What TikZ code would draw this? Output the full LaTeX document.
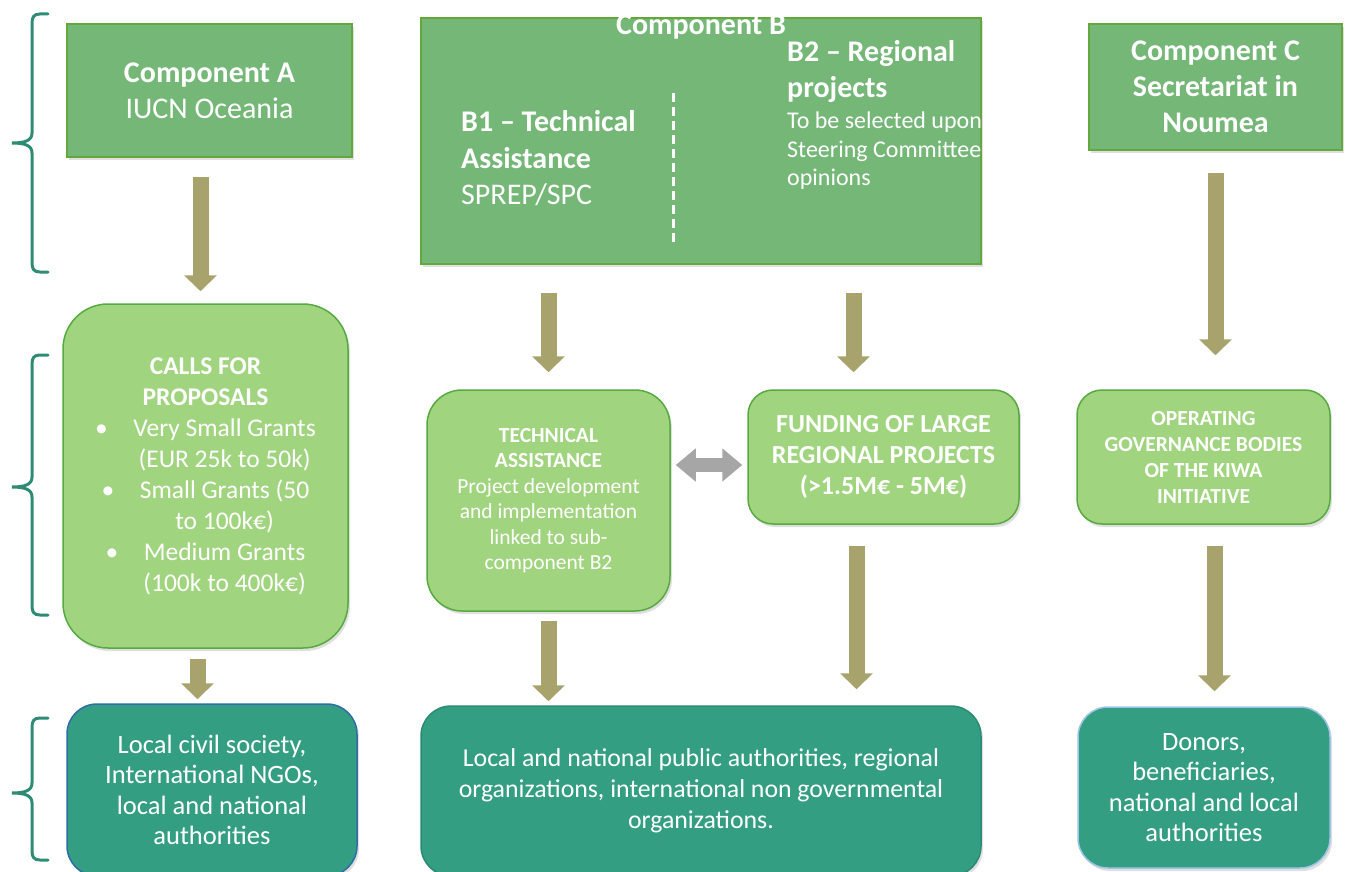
\documentclass[tikz,border=0pt]{standalone}
\usepackage{fontspec}
\setmainfont{Carlito}
\usetikzlibrary{arrows.meta,shadows}
\definecolor{hdrgreen}{RGB}{116,183,119}
\definecolor{hdrline}{RGB}{100,168,60}
\definecolor{litegreen}{RGB}{161,212,127}
\definecolor{liteline}{RGB}{86,170,64}
\definecolor{darkteal}{RGB}{52,158,131}
\definecolor{civilline}{RGB}{46,110,165}
\definecolor{publicline}{RGB}{44,140,115}
\definecolor{donorline}{RGB}{157,196,230}
\definecolor{bracecol}{RGB}{47,140,116}
\definecolor{olivearr}{RGB}{168,163,108}
\definecolor{greyarr}{RGB}{166,166,166}
\begin{document}
\begin{tikzpicture}[x=1pt,y=-1pt,
    hdr/.style={draw=hdrline,line width=1.5pt,fill=hdrgreen,text=white,align=center,
      drop shadow={shadow xshift=2pt,shadow yshift=-3pt,opacity=0.25}},
    lite/.style={draw=liteline,line width=1.5pt,fill=litegreen,text=white,align=center,
      rounded corners=30pt,drop shadow={shadow xshift=2pt,shadow yshift=-3pt,opacity=0.25}},
    target/.style={draw=#1,line width=1.5pt,fill=darkteal,text=white,align=center,
      rounded corners=30pt,font=\fontsize{26.5}{30.5}\selectfont,
      drop shadow={shadow xshift=2pt,shadow yshift=-3pt,opacity=0.25}},
    fat/.style={draw=olivearr,line width=16pt,-{Triangle[width=32pt,length=16pt]}},
    both/.style={draw=greyarr,line width=14pt,
      {Triangle[width=32pt,length=20pt]}-{Triangle[width=32pt,length=20pt]}}]
  \useasboundingbox[fill=white] (0,0) rectangle (1350,872);
  \foreach \t/\m/\b in {14/143/272,355/487/615,718/793/860} {
    \draw[bracecol,line width=3pt,line cap=round]
      (48,\t) -- (40,\t) .. controls (34,\t) and (32,\t+3) .. (32,\t+9)
      -- (32,\m-10) .. controls (32,\m-3) and (26,\m) .. (12,\m)
      .. controls (26,\m) and (32,\m+3) .. (32,\m+10)
      -- (32,\b-9) .. controls (32,\b-3) and (34,\b) .. (40,\b) -- (48,\b);
  }
  \node[hdr,minimum width=285pt,minimum height=133pt,font=\fontsize{30}{36}\selectfont]
    (compA) at (209.5,90.5) {\textbf{Component A}\\IUCN Oceania};
  \node[hdr,minimum width=560pt,minimum height=246pt] (compB) at (701,141) {};
  \node[text=white,font=\fontsize{30}{36}\selectfont\bfseries] (titleB) at (701,27) {Component B};
  \node[text=white,align=left,anchor=west,inner sep=0pt,font=\fontsize{30}{36.5}\selectfont]
    (b1) at (461,158.5) {\textbf{B1 -- Technical}\\\textbf{Assistance}\\SPREP/SPC};
  \node[text=white,align=left,anchor=west,inner sep=0pt,font=\fontsize{30}{36}\selectfont\bfseries]
    (b2) at (787,72) {B2 -- Regional\\projects};
  \node[text=white,align=left,anchor=west,inner sep=0pt,font=\fontsize{24}{28.5}\selectfont]
    (b2note) at (787,151) {To be selected upon\\Steering Committee\\opinions};
  \draw[white,line width=3pt,dash pattern=on 9pt off 5pt] (673,93) -- (673,245);
  \node[hdr,minimum width=253pt,minimum height=126pt,font=\fontsize{30}{36}\selectfont\bfseries]
    (compC) at (1215.5,87) {Component C\\Secretariat in\\Noumea};
  \node[lite,rounded corners=45pt,minimum width=285pt,minimum height=344pt,
    font=\fontsize{25.5}{31}\selectfont] (calls) at (205.5,476)
    {\textbf{CALLS FOR}\\\textbf{PROPOSALS}\\
     \textbullet\quad Very Small Grants\\\hphantom{\textbullet\quad}(EUR 25k to 50k)\\
     \textbullet\quad Small Grants (50\\\hphantom{\textbullet\quad}to 100k€)\\
     \textbullet\quad Medium Grants\\\hphantom{\textbullet\quad}(100k to 400k€)};
  \node[lite,rounded corners=35pt,minimum width=243pt,minimum height=221pt,
    font=\fontsize{21.5}{25.5}\selectfont] (ta) at (548.5,500.5)
    {\textbf{TECHNICAL}\\\textbf{ASSISTANCE}\\Project development\\and implementation\\linked to sub-\\component B2};
  \node[lite,rounded corners=25pt,minimum width=271pt,minimum height=134pt,
    font=\fontsize{26}{31}\selectfont\bfseries] (fund) at (883.5,457)
    {FUNDING OF LARGE\\REGIONAL PROJECTS\\(>1.5M€ - 5M€)};
  \node[lite,rounded corners=25pt,minimum width=253pt,minimum height=134pt,
    font=\fontsize{21.5}{26}\selectfont\bfseries] (oper) at (1203.5,457)
    {OPERATING\\GOVERNANCE BODIES\\OF THE KIWA\\INITIATIVE};
  \node[target=civilline,minimum width=290pt,minimum height=172pt]
    (civil) at (212,790) {Local civil society,\\International NGOs,\\local and national\\authorities};
  \node[target=publicline,minimum width=560pt,minimum height=170pt,font=\fontsize{25.8}{31}\selectfont]
    (public) at (701,791) {Local and national public authorities, regional\\organizations, international non governmental\\organizations.};
  \node[target=donorline,minimum width=252pt,minimum height=161pt]
    (donors) at (1204,787.5) {Donors,\\beneficiaries,\\national and local\\authorities};
  \draw[fat,shorten <=19pt,shorten >=12pt] ([xshift=-9pt]compA.south) -- ([xshift=-5pt]calls.north);
  \draw[fat,shorten <=28pt,shorten >=17pt] (ta.north |- compB.south) -- (ta.north);
  \draw[fat,shorten <=28pt,shorten >=17pt] ([xshift=-30pt]fund.north |- compB.south) -- ([xshift=-30pt]fund.north);
  \draw[fat,shorten <=22pt,shorten >=34pt] (compC.south) -- (oper.north -| compC.south);
  \draw[fat,shorten <=10pt,shorten >=4pt] ([xshift=-8pt]calls.south) -- ([xshift=-8pt]calls.south |- civil.north);
  \draw[fat,shorten <=9pt,shorten >=4pt] (ta.south) -- (ta.south |- public.north);
  \draw[fat,shorten <=21pt,shorten >=16pt] ([xshift=-27pt]fund.south) -- ([xshift=-27pt]fund.south |- public.north);
  \draw[fat,shorten <=21pt,shorten >=15pt] ([xshift=11pt]oper.south) -- ([xshift=11pt]oper.south |- donors.north);
  \draw[both,shorten <=5pt,shorten >=5pt] ([yshift=-8pt]fund.west -| ta.east) -- ([yshift=-8pt]fund.west);
\end{tikzpicture}
\end{document}
